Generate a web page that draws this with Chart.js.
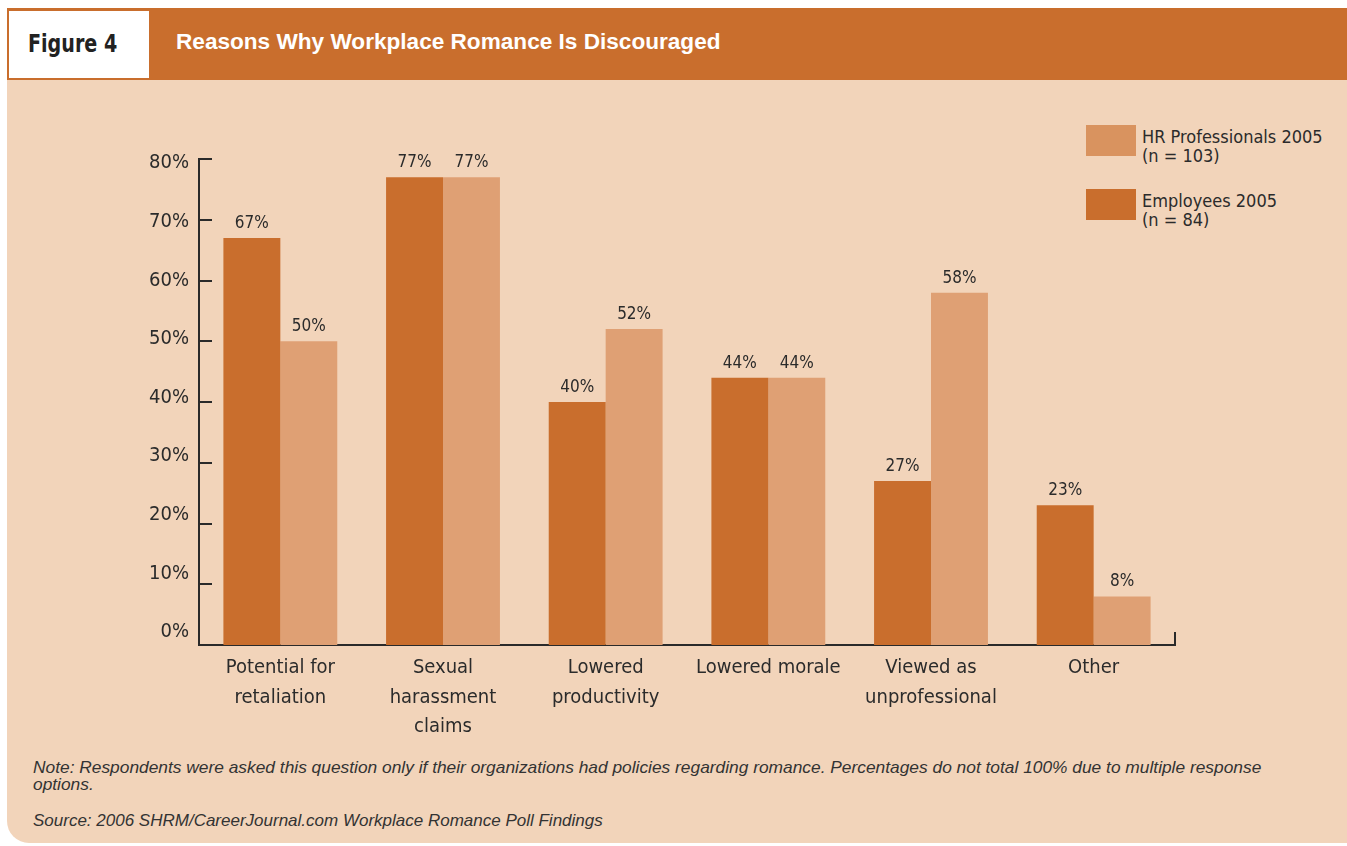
<!DOCTYPE html>
<html>
<head>
<meta charset="utf-8">
<script src="https://cdn.jsdelivr.net/npm/chart.js@4.4.1/dist/chart.umd.min.js"></script>
<style>
  body { margin: 0; background: #fff; width: 1347px; height: 846px; overflow: hidden; position: relative;
         font-family: "DejaVu Sans Condensed", "Liberation Sans", sans-serif; color: #2b2b2b; }
  #panel { position: absolute; left: 7px; top: 8px; width: 1360px; height: 835px; background: #f2d4ba;
           border-bottom-left-radius: 22px; overflow: hidden; }
  #header { position: absolute; left: 0; top: 0; width: 100%; height: 72px; background: #c96e2d; }
  #figbox { position: absolute; left: 0; top: 1px; width: 140px; height: 67px; background: #fff;
            border: 2px solid #c96e2d; }
  #figbox span { position: absolute; left: 19px; top: 18px; font-weight: bold; font-size: 25px; color: #222;
                 transform: scaleX(0.85); transform-origin: left center; white-space: nowrap; }
  #title { position: absolute; left: 169px; top: 21px; font-family: "Liberation Sans", sans-serif; font-weight: bold;
           font-size: 22.6px; color: #fff; white-space: nowrap; }
  #chartwrap { position: absolute; left: 0; top: 0; width: 1347px; height: 846px; }
  .leg { position: absolute; left: 1086px; font-size: 18px; line-height: 19px; color: #2b2b2b; }
  .leg i { position: absolute; left: 0; top: 0; width: 50px; height: 31px; }
  .leg div { position: absolute; left: 56px; top: 2px; white-space: nowrap; }
  .note { position: absolute; left: 33px; font-family: "Liberation Sans", sans-serif; font-style: italic;
          font-size: 17px; line-height: 17px; color: #333; white-space: nowrap; }
</style>
</head>
<body>
<div id="panel">
  <div id="header">
    <div id="figbox"><span>Figure 4</span></div>
    <div id="title">Reasons Why Workplace Romance Is Discouraged</div>
  </div>
</div>
<div class="leg" style="top:125px"><i style="background:#d9935f"></i><div>HR Professionals 2005<br>(n = 103)</div></div>
<div class="leg" style="top:189px"><i style="background:#c96e2d"></i><div>Employees 2005<br>(n = 84)</div></div>
<div class="note" style="top:759px; font-size:17.35px">Note: Respondents were asked this question only if their organizations had policies regarding romance. Percentages do not total 100% due to multiple response<br>options.</div>
<div class="note" style="top:812px">Source: 2006 SHRM/CareerJournal.com Workplace Romance Poll Findings</div>
<div id="chartwrap"><canvas id="chart" width="1347" height="846"></canvas></div>

<script>
const categories = [
  ['Potential for', 'retaliation'],
  ['Sexual', 'harassment', 'claims'],
  ['Lowered', 'productivity'],
  'Lowered morale',
  ['Viewed as', 'unprofessional'],
  'Other'
];
const employees2005 = [67, 77, 40, 44, 27, 23];
const hrPros2005 = [50, 77, 52, 44, 58, 8];
const yTicks = [0, 10, 20, 30, 40, 50, 60, 70, 80];

const axisColor = '#2a2a2a';
const labelFont = '"DejaVu Sans Condensed", "Liberation Sans", sans-serif';

// value labels above bars + inward ticks on the axes
const extras = {
  id: 'extras',
  afterDatasetsDraw(chart) {
    const ctx = chart.ctx;
    ctx.save();
    ctx.fillStyle = '#2b2b2b';
    ctx.font = '17px ' + labelFont;
    ctx.textAlign = 'center';
    ctx.textBaseline = 'alphabetic';
    chart.data.datasets.forEach((ds, i) => {
      chart.getDatasetMeta(i).data.forEach((bar, j) => {
        ctx.fillText(ds.data[j] + '%', bar.x, bar.y - 10);
      });
    });
    const y = chart.scales.y, x = chart.scales.x;
    ctx.strokeStyle = axisColor;
    ctx.lineWidth = 2;
    yTicks.forEach(v => {
      if (v === 0) return;
      const py = Math.round(y.getPixelForValue(v));
      ctx.beginPath();
      ctx.moveTo(x.left, py);
      ctx.lineTo(x.left + 13, py);
      ctx.stroke();
    });
    ctx.beginPath();
    ctx.moveTo(x.right, y.bottom);
    ctx.lineTo(x.right, y.bottom - 13);
    ctx.stroke();
    ctx.restore();
  }
};

new Chart(document.getElementById('chart'), {
  type: 'bar',
  data: {
    labels: categories,
    datasets: [
      { label: 'Employees 2005 (n = 84)', data: employees2005, backgroundColor: '#c96e2d' },
      { label: 'HR Professionals 2005 (n = 103)', data: hrPros2005, backgroundColor: '#dfa074' }
    ]
  },
  options: {
    responsive: false,
    animation: false,
    devicePixelRatio: 1,
    layout: { padding: { top: 159, right: 172, bottom: 101, left: 0 } },
    plugins: { legend: { display: false }, tooltip: { enabled: false } },
    datasets: { bar: { categoryPercentage: 0.7, barPercentage: 1.0 } },
    scales: {
      x: {
        grid: { display: false, drawTicks: false },
        border: { display: true, color: axisColor, width: 2 },
        ticks: { color: '#2b2b2b', padding: 8, maxRotation: 0, autoSkip: false,
                 font: { family: labelFont, size: 20, lineHeight: 1.48 } },
        afterFit(scale) { scale.height = 100; }
      },
      y: { display: false, min: 0, max: 80 },
      // the printed tick labels sit a little off the tick marks, so they get their own axis
      yl: {
        position: 'left',
        min: -2.2, max: 80.7,
        grid: { display: false, drawTicks: false },
        border: { display: true, color: axisColor, width: 2 },
        ticks: { color: '#2b2b2b', padding: 10,
                 font: { family: labelFont, size: 20 },
                 callback: v => v + '%' },
        afterBuildTicks(scale) { scale.ticks = yTicks.map(v => ({ value: v })); },
        afterFit(scale) { scale.width = 199; }
      }
    }
  },
  plugins: [extras]
});
</script>
</body>
</html>
